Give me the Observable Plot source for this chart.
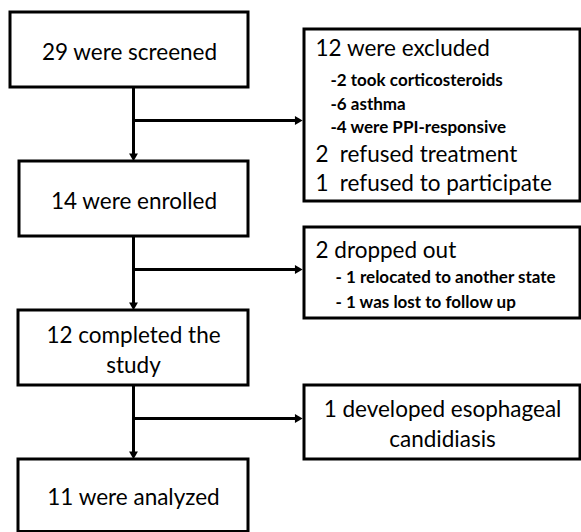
<!DOCTYPE html>
<html>
<head>
<meta charset="utf-8">
<script src="https://cdn.jsdelivr.net/npm/d3@7"></script>
<script src="https://cdn.jsdelivr.net/npm/@observablehq/plot@0.6"></script>
<style>
  html, body { margin: 0; padding: 0; background: #fff; }
</style>
</head>
<body>
<div id="chart"></div>
<script>
// ---- content ----
const stepLabels = ["29 were screened", "14 were enrolled", "12 completed the\nstudy", "11 were analyzed"];
const stepCounts = [29, 14, 12, 11];
const exclusionLines = ["12 were excluded", "-2 took corticosteroids", "-6 asthma", "-4 were PPI-responsive", "2\u2002refused treatment", "1\u2002refused to participate"];
const exclusionKinds = ["main", "sub", "sub", "sub", "main", "main"];
const dropoutLines = ["2 dropped out", "- 1 relocated to another state", "- 1 was lost to follow up"];
const dropoutKinds = ["main", "sub", "sub"];
const adverseLines = ["1 developed esophageal\ncandidiasis"];

// ---- layout (pixel space) ----
const W = 581, H = 532;
const spineX = 133;
const mainX1 = [10, 19, 18, 18], mainX2 = [248, 248, 248, 248];
const mainY1 = [12, 161, 310, 459], mainY2 = [87, 236, 385, 531.5];
const sideX1 = 304, sideX2 = 580;
const sideY1 = [29, 227, 385], sideY2 = [201, 318, 459];
const branchY = [120, 269, 418];
const exclusionY = [48, 80, 104, 127, 154, 183];
const dropoutY = [250, 277, 302];

const mainBoxes = stepLabels.map((label, i) => ({label, n: stepCounts[i], x1: mainX1[i], x2: mainX2[i], y1: mainY1[i], y2: mainY2[i]}));
const sideBoxes = sideY1.map((y1, i) => ({x1: sideX1, x2: sideX2, y1, y2: sideY2[i]}));

const vLinks = [0, 1, 2].map(i => ({x1: spineX, y1: mainY2[i], x2: spineX, y2: mainY1[i + 1] - 5}));
const hLinks = branchY.map(y => ({x1: spineX, y1: y, x2: sideX1 - 6, y2: y}));
const downHeads = [1, 2, 3].map(i => ({x: spineX, y: mainY1[i] - 5.5}));
const rightHeads = branchY.map(y => ({x: sideX1 - 7, y}));

const sideText = [
  ...exclusionLines.map((t, i) => ({t, kind: exclusionKinds[i], y: exclusionY[i]})),
  ...dropoutLines.map((t, i) => ({t, kind: dropoutKinds[i], y: dropoutY[i], drop: true}))
];
const mainSide = sideText.filter(d => d.kind === "main");
const subSide = sideText.filter(d => d.kind === "sub");

const FONT = "Lato";
const BIG = 22.5, SMALL = 17;

const chart = Plot.plot({
  width: W,
  height: H,
  margin: 0,
  x: {domain: [0, W], range: [0, W], axis: null},
  y: {domain: [0, H], range: [0, H], axis: null},
  style: {fontFamily: FONT, background: "#fff", color: "#000"},
  marks: [
    Plot.link(vLinks, {x1: "x1", y1: "y1", x2: "x2", y2: "y2", stroke: "#000", strokeWidth: 3}),
    Plot.link(hLinks, {x1: "x1", y1: "y1", x2: "x2", y2: "y2", stroke: "#000", strokeWidth: 3}),
    Plot.dot(downHeads, {x: "x", y: "y", symbol: "triangle", r: 3.3, fill: "#000", stroke: "none", rotate: 180}),
    Plot.dot(rightHeads, {x: "x", y: "y", symbol: "triangle", r: 3.3, fill: "#000", stroke: "none", rotate: 90}),
    Plot.rect(mainBoxes, {x1: "x1", x2: "x2", y1: "y1", y2: "y2", fill: "#fff", stroke: "#000", strokeWidth: 3}),
    Plot.rect(sideBoxes, {x1: "x1", x2: "x2", y1: "y1", y2: "y2", fill: "#fff", stroke: "#000", strokeWidth: 3}),
    Plot.text(mainBoxes, {x: d => (d.x1 + d.x2) / 2, y: d => (d.y1 + Math.min(d.y2, 530)) / 2, text: "label", fontSize: BIG, lineHeight: 1.35, fill: "#000"}),
    Plot.text(mainSide, {x: 315, y: "y", text: "t", fontSize: BIG, textAnchor: "start", fill: "#000"}),
    Plot.text(subSide, {x: d => d.drop ? 335 : 330, y: "y", text: "t", fontSize: SMALL, fontWeight: "bold", textAnchor: "start", fill: "#000"}),
    Plot.text(adverseLines, {x: (sideX1 + sideX2) / 2, y: (sideY1[2] + sideY2[2]) / 2, text: d => d, fontSize: BIG, lineHeight: 1.35, fill: "#000"})
  ]
});
document.getElementById("chart").appendChild(chart);
</script>
</body>
</html>
